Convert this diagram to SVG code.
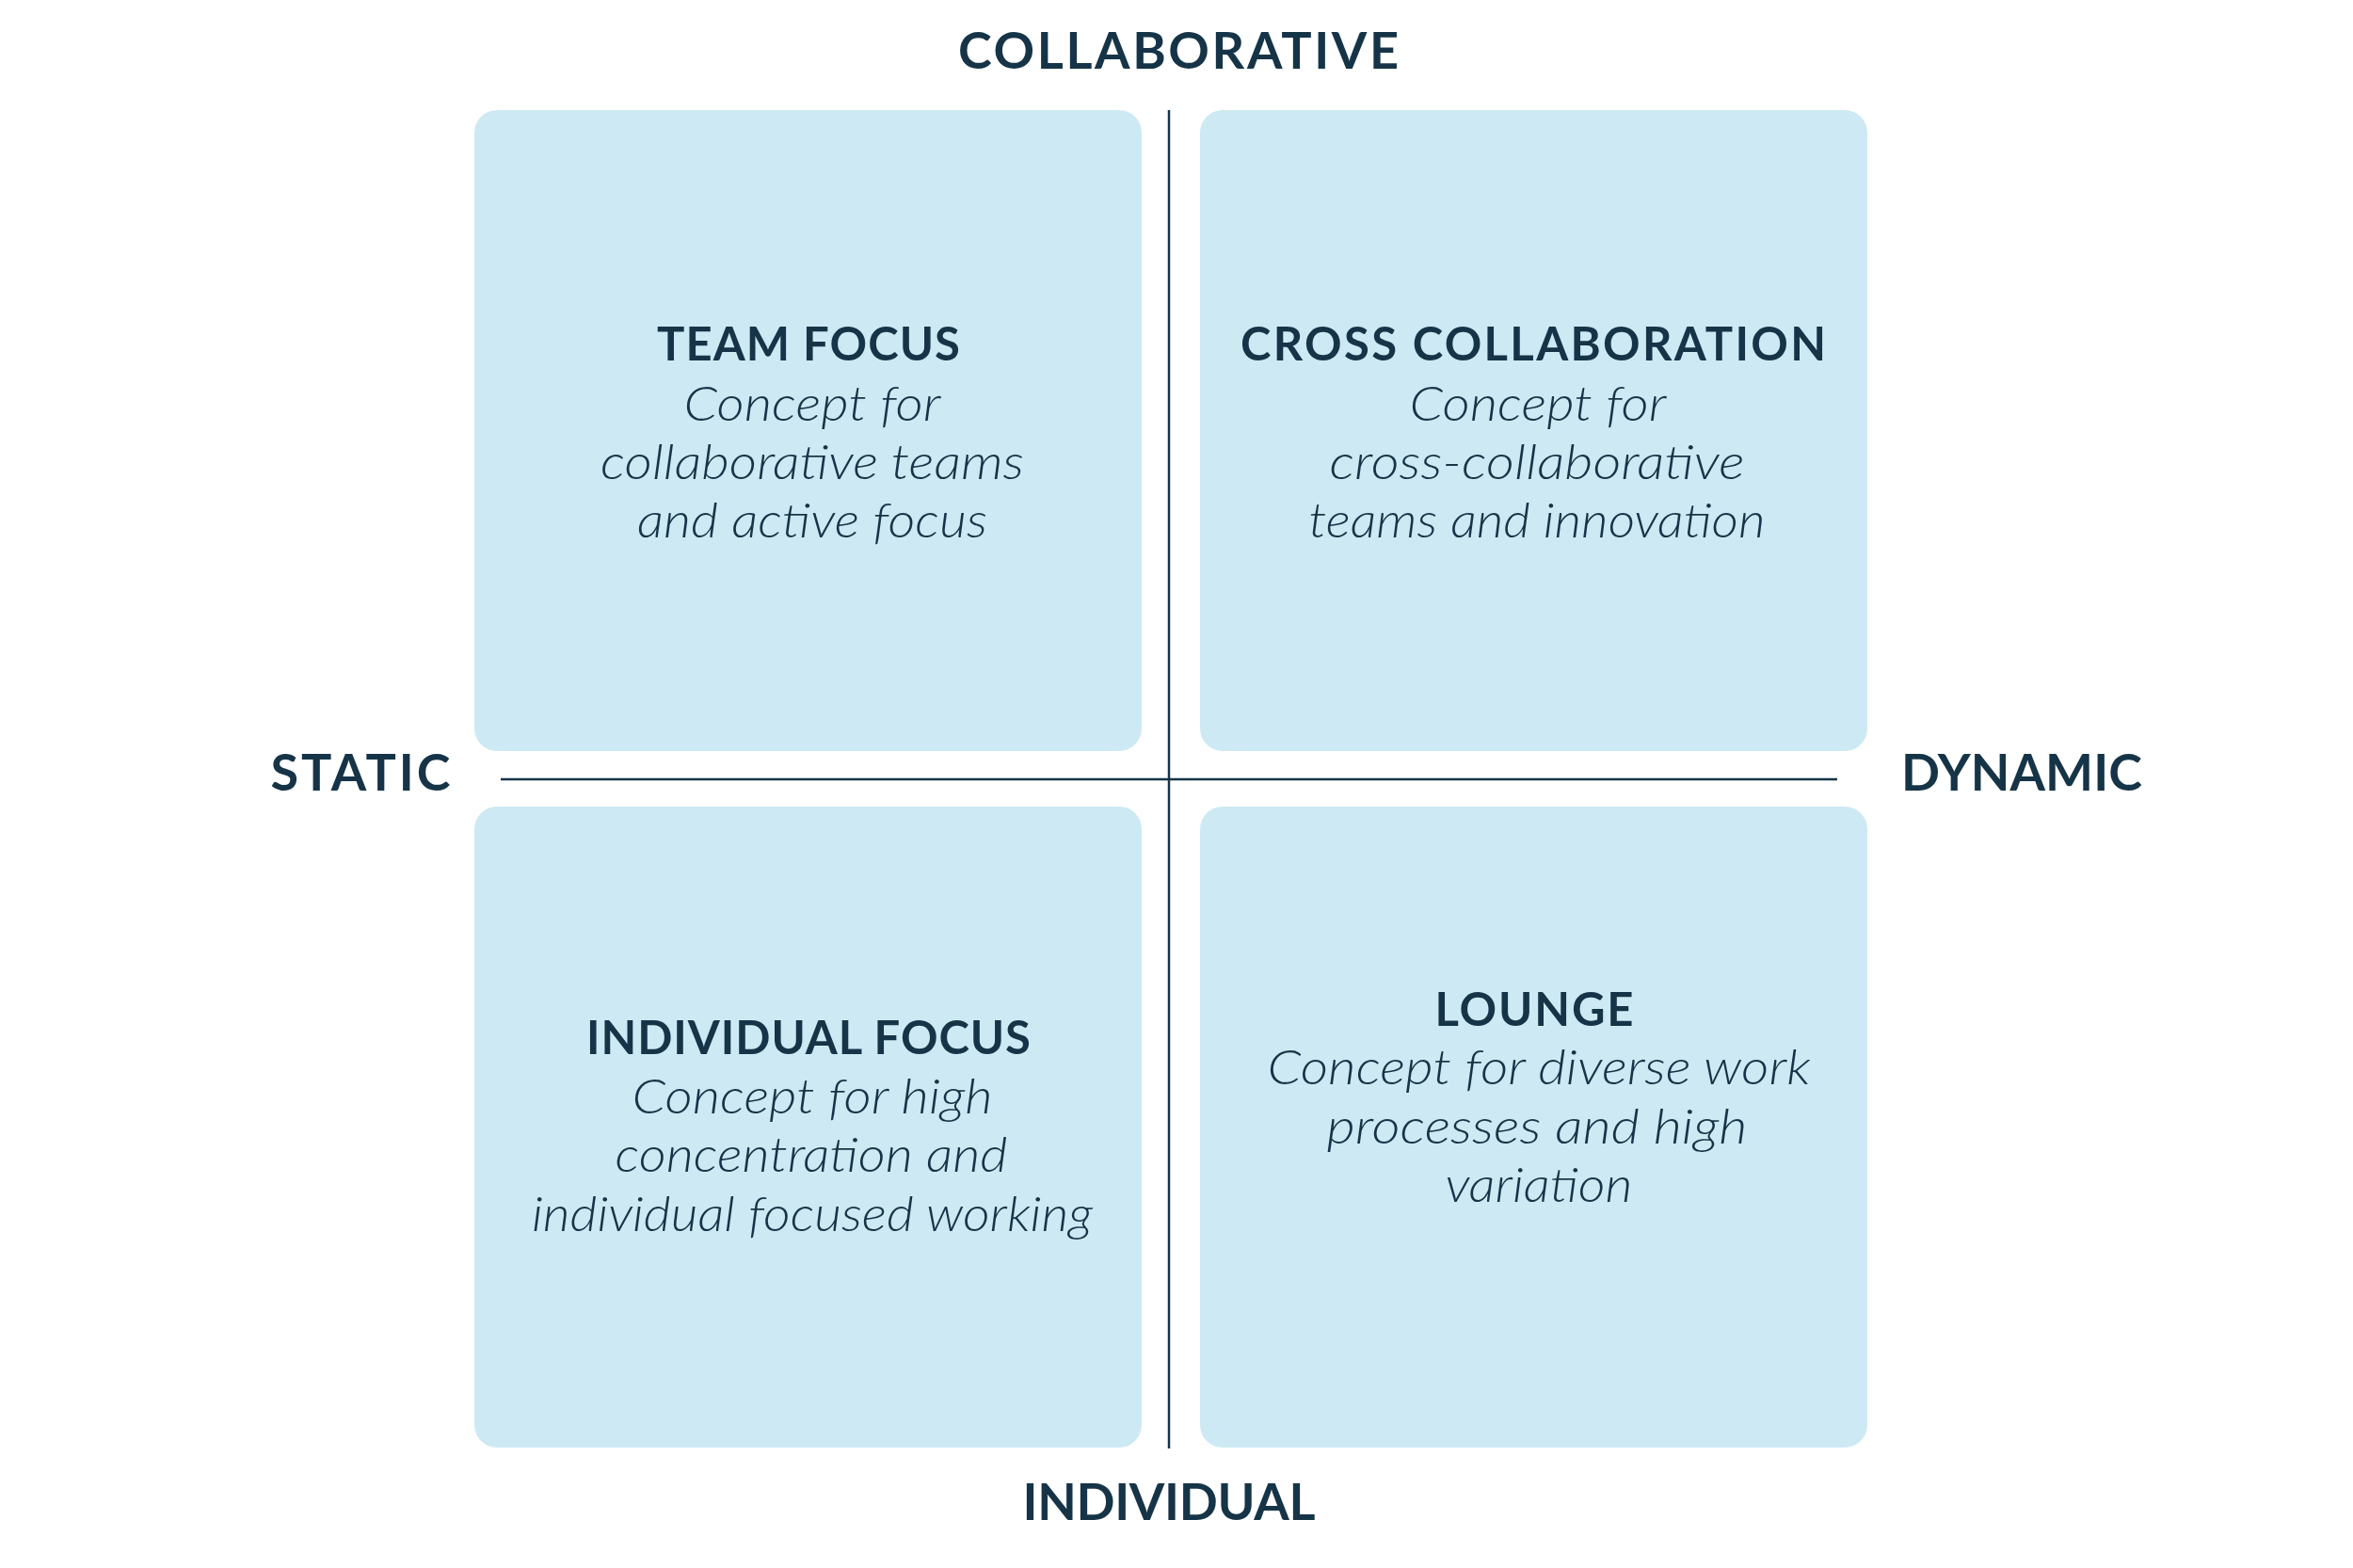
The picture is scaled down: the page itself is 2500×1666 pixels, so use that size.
<svg xmlns="http://www.w3.org/2000/svg" width="2500" height="1666" viewBox="0 0 2500 1666">
<style>
.box{fill:#cde9f4}
.axis{font-family:Lato,"Open Sans","Liberation Sans",sans-serif;font-weight:700;font-size:54px;fill:#163447;text-anchor:middle}
.title{font-family:Lato,"Open Sans","Liberation Sans",sans-serif;font-weight:700;font-size:49px;fill:#163447;text-anchor:middle}
.desc{font-family:Lato,"Open Sans","Liberation Sans",sans-serif;font-weight:300;font-style:italic;font-size:52px;fill:#163447;text-anchor:middle}
.line{stroke:#163447;stroke-width:2.5;fill:none}
</style>
<rect width="2500" height="1666" fill="#ffffff"/>
<g id="connectors">
<line class="line" x1="1242" y1="117" x2="1242" y2="1539"/>
<line class="line" x1="532" y1="828" x2="1952" y2="828"/>
</g>
<g id="axis-labels">
<text class="axis" x="1252" y="73" textLength="468">COLLABORATIVE</text>
<text class="axis" x="1242" y="1615" textLength="311">INDIVIDUAL</text>
<text class="axis" x="383" y="840" textLength="191">STATIC</text>
<text class="axis" x="2148" y="840" textLength="256">DYNAMIC</text>
</g>
<g id="team-focus">
<rect class="box" x="504" y="117" width="709" height="681" rx="24"/>
<text class="title" x="859" y="383" textLength="322">TEAM FOCUS</text>
<text class="desc" x="863" y="447" textLength="273" lengthAdjust="spacingAndGlyphs">Concept for</text>
<text class="desc" x="863" y="509" textLength="450" lengthAdjust="spacingAndGlyphs">collaborative teams</text>
<text class="desc" x="863" y="571" textLength="372" lengthAdjust="spacingAndGlyphs">and active focus</text>
</g>
<g id="cross-collaboration">
<rect class="box" x="1275" y="117" width="709" height="681" rx="24"/>
<text class="title" x="1629" y="383" textLength="622">CROSS COLLABORATION</text>
<text class="desc" x="1634" y="447" textLength="273" lengthAdjust="spacingAndGlyphs">Concept for</text>
<text class="desc" x="1633" y="509" textLength="441" lengthAdjust="spacingAndGlyphs">cross-collaborative</text>
<text class="desc" x="1633" y="571" textLength="485" lengthAdjust="spacingAndGlyphs">teams and innovation</text>
</g>
<g id="individual-focus">
<rect class="box" x="504" y="857" width="709" height="681" rx="24"/>
<text class="title" x="859" y="1120" textLength="472">INDIVIDUAL FOCUS</text>
<text class="desc" x="863" y="1183" textLength="383" lengthAdjust="spacingAndGlyphs">Concept for high</text>
<text class="desc" x="862" y="1245" textLength="417" lengthAdjust="spacingAndGlyphs">concentration and</text>
<text class="desc" x="863" y="1308" textLength="596" lengthAdjust="spacingAndGlyphs">individual focused working</text>
</g>
<g id="lounge">
<rect class="box" x="1275" y="857" width="709" height="681" rx="24"/>
<text class="title" x="1630" y="1090" textLength="211">LOUNGE</text>
<text class="desc" x="1635" y="1152" textLength="577" lengthAdjust="spacingAndGlyphs">Concept for diverse work</text>
<text class="desc" x="1633" y="1215" textLength="447" lengthAdjust="spacingAndGlyphs">processes and high</text>
<text class="desc" x="1635" y="1277" textLength="199" lengthAdjust="spacingAndGlyphs">variation</text>
</g>
</svg>
